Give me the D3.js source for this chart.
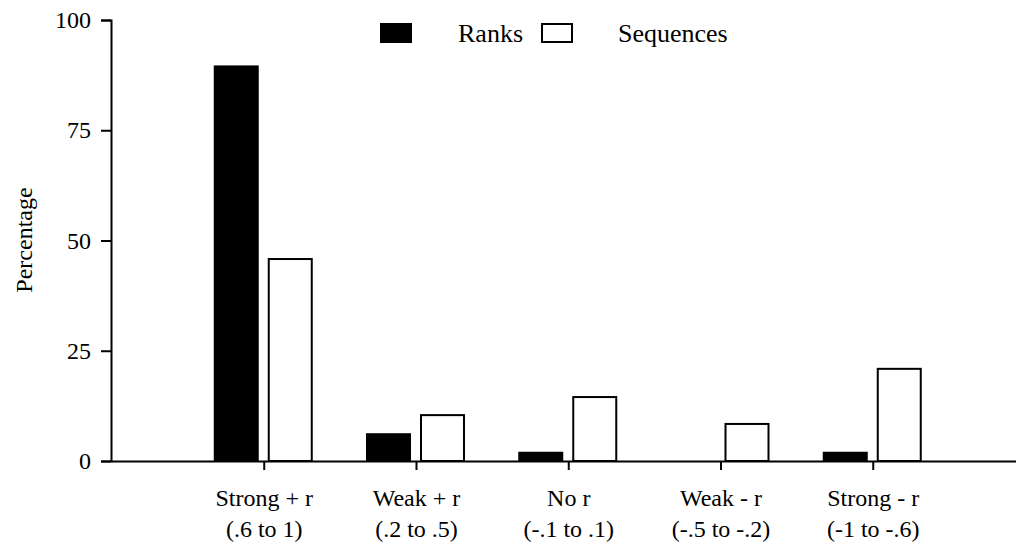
<!DOCTYPE html>
<html>
<head>
<meta charset="utf-8">
<script src="https://cdn.jsdelivr.net/npm/d3@7"></script>
<style>
  body { margin: 0; background: #fff; }
  svg { display: block; }
  svg text { font-family: "Liberation Serif", "Times New Roman", Times, "DejaVu Serif", serif; fill: #000; }
</style>
</head>
<body>
<svg width="1016" height="548"></svg>
<script>
const categories = ["Strong + r", "Weak + r", "No r", "Weak - r", "Strong - r"];
const ranges = ["(.6 to 1)", "(.2 to .5)", "(-.1 to .1)", "(-.5 to -.2)", "(-1 to -.6)"];
const ranks = [89.7, 6.3, 2.1, 0, 2.1];
const sequences = [45.8, 10.4, 14.5, 8.4, 20.9];
const yTicks = [0, 25, 50, 75, 100];

let svg = d3.select("svg");

let x = d3.scaleLinear().domain([-1, 5]).range([111.5, 1025]);
let y = d3.scaleLinear().domain([0, 100]).range([461, 20]);

let barW = 45;

// bars
svg.selectAll(".rank")
    .data(ranks)
    .enter().append("rect")
    .attr("class", "rank")
    .attr("x", (d, i) => x(i) - 5 - barW)
    .attr("y", d => y(d))
    .attr("width", barW)
    .attr("height", d => y(0) - y(d))
    .attr("fill", "#000");

svg.selectAll(".seq")
    .data(sequences)
    .enter().append("rect")
    .attr("class", "seq")
    .attr("x", (d, i) => x(i) + 5)
    .attr("y", d => y(d))
    .attr("width", barW - 2)
    .attr("height", d => y(0) - y(d))
    .attr("fill", "#fff")
    .attr("stroke", "#000")
    .attr("stroke-width", 2);

// y axis
let yAxis = svg.append("g")
    .attr("transform", "translate(111,0)")
    .call(d3.axisLeft(y).tickValues(yTicks).tickSize(10).tickPadding(10));
yAxis.select(".domain").attr("stroke-width", 2);
yAxis.selectAll(".tick line").attr("stroke-width", 2);
yAxis.selectAll("text").attr("font-size", 24);

// x axis
let xAxis = svg.append("g")
    .attr("transform", "translate(0,461)")
    .call(d3.axisBottom(x).tickValues([0, 1, 2, 3, 4]).tickSize(9).tickSizeOuter(0)
        .tickFormat(i => categories[i]).tickPadding(0));
xAxis.select(".domain").attr("stroke-width", 2);
xAxis.selectAll(".tick line").attr("stroke-width", 2);
xAxis.selectAll(".tick text")
    .attr("font-size", 24)
    .attr("dy", null)
    .attr("y", 45);
xAxis.selectAll(".tick").append("text")
    .attr("y", 76)
    .attr("text-anchor", "middle")
    .attr("font-size", 24)
    .text((d) => ranges[d]);

// y label
svg.append("text")
    .attr("transform", "translate(32,240) rotate(-90)")
    .attr("text-anchor", "middle")
    .attr("font-size", 24)
    .text("Percentage");

// legend
let legend = [
    {name: "Ranks", fill: "#000", x: 380, tx: 458},
    {name: "Sequences", fill: "#fff", x: 541, tx: 618}
];
let lg = svg.selectAll(".legend")
    .data(legend)
    .enter().append("g")
    .attr("class", "legend");
lg.append("rect")
    .attr("x", d => d.x + 1)
    .attr("y", 24)
    .attr("width", 30)
    .attr("height", 18)
    .attr("fill", d => d.fill)
    .attr("stroke", "#000")
    .attr("stroke-width", 2);
lg.append("text")
    .attr("x", d => d.tx)
    .attr("y", 42)
    .attr("font-size", 26)
    .text(d => d.name);
</script>
</body>
</html>
